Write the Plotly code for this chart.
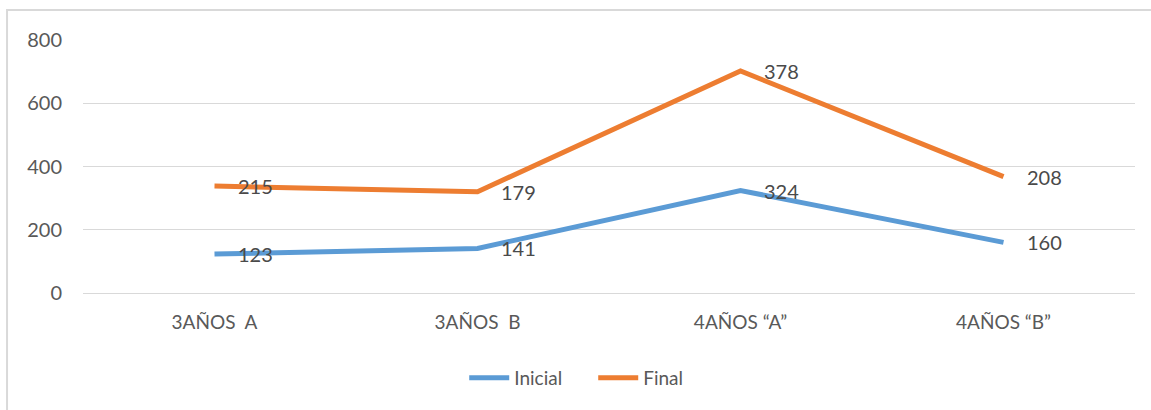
import plotly.graph_objects as go

categories = ["3AÑOS\u00a0 A", "3AÑOS\u00a0 B", "4AÑOS \u201cA\u201d", "4AÑOS \u201cB\u201d"]
inicial = [123, 141, 324, 160]
final = [215, 179, 378, 208]
y_ticks = [0, 200, 400, 600, 800]

font_family = "Lato, 'Open Sans', sans-serif"
text_color = "#595959"
label_color = "#4a4a4a"

fig = go.Figure()
fig.add_trace(go.Scatter(
    x=categories, y=inicial, name="Inicial", stackgroup="one", fill="none",
    mode="lines", line=dict(color="#5B9BD5", width=5),
))
fig.add_trace(go.Scatter(
    x=categories, y=final, name="Final", stackgroup="one", fill="none",
    mode="lines", line=dict(color="#ED7D31", width=5),
))

annotations = []
for i, c in enumerate(categories):
    annotations.append(dict(x=c, y=inicial[i], text=str(inicial[i]), showarrow=False,
                            xanchor="left", yanchor="middle", xshift=21,
                            font=dict(size=20, color=label_color)))
    annotations.append(dict(x=c, y=inicial[i] + final[i], text=str(final[i]), showarrow=False,
                            xanchor="left", yanchor="middle", xshift=21,
                            font=dict(size=20, color=label_color)))

fig.update_layout(
    width=1151, height=410,
    margin=dict(l=83, r=16, t=40, b=117),
    paper_bgcolor="white", plot_bgcolor="white",
    font=dict(family=font_family, size=19, color=text_color),
    showlegend=True,
    legend=dict(orientation="h", x=0.485, xanchor="center", yref="container",
                y=1 - 378 / 410, yanchor="middle",
                font=dict(size=19, color=text_color), itemwidth=40, entrywidth=74),
    xaxis=dict(range=[-0.5, 3.5], showgrid=False, showline=True, linecolor="#D9D9D9",
               linewidth=1, ticks="", ticklabelstandoff=12,
               tickfont=dict(size=19, color=text_color)),
    yaxis=dict(range=[0, 800], tickvals=y_ticks, showgrid=True, gridcolor="#D9D9D9",
               gridwidth=1, zeroline=False, ticks="", ticklabelstandoff=20,
               tickfont=dict(size=20, color=text_color)),
    annotations=annotations,
    shapes=[dict(type="rect", xref="paper", yref="paper",
                 x0=-0.0722, x1=1.03, y0=-0.5, y1=1.1186,
                 line=dict(color="#D9D9D9", width=2), layer="below")],
)

fig.write_html("out.html", config={"displayModeBar": False},
               post_script="document.body.style.margin='0';")
